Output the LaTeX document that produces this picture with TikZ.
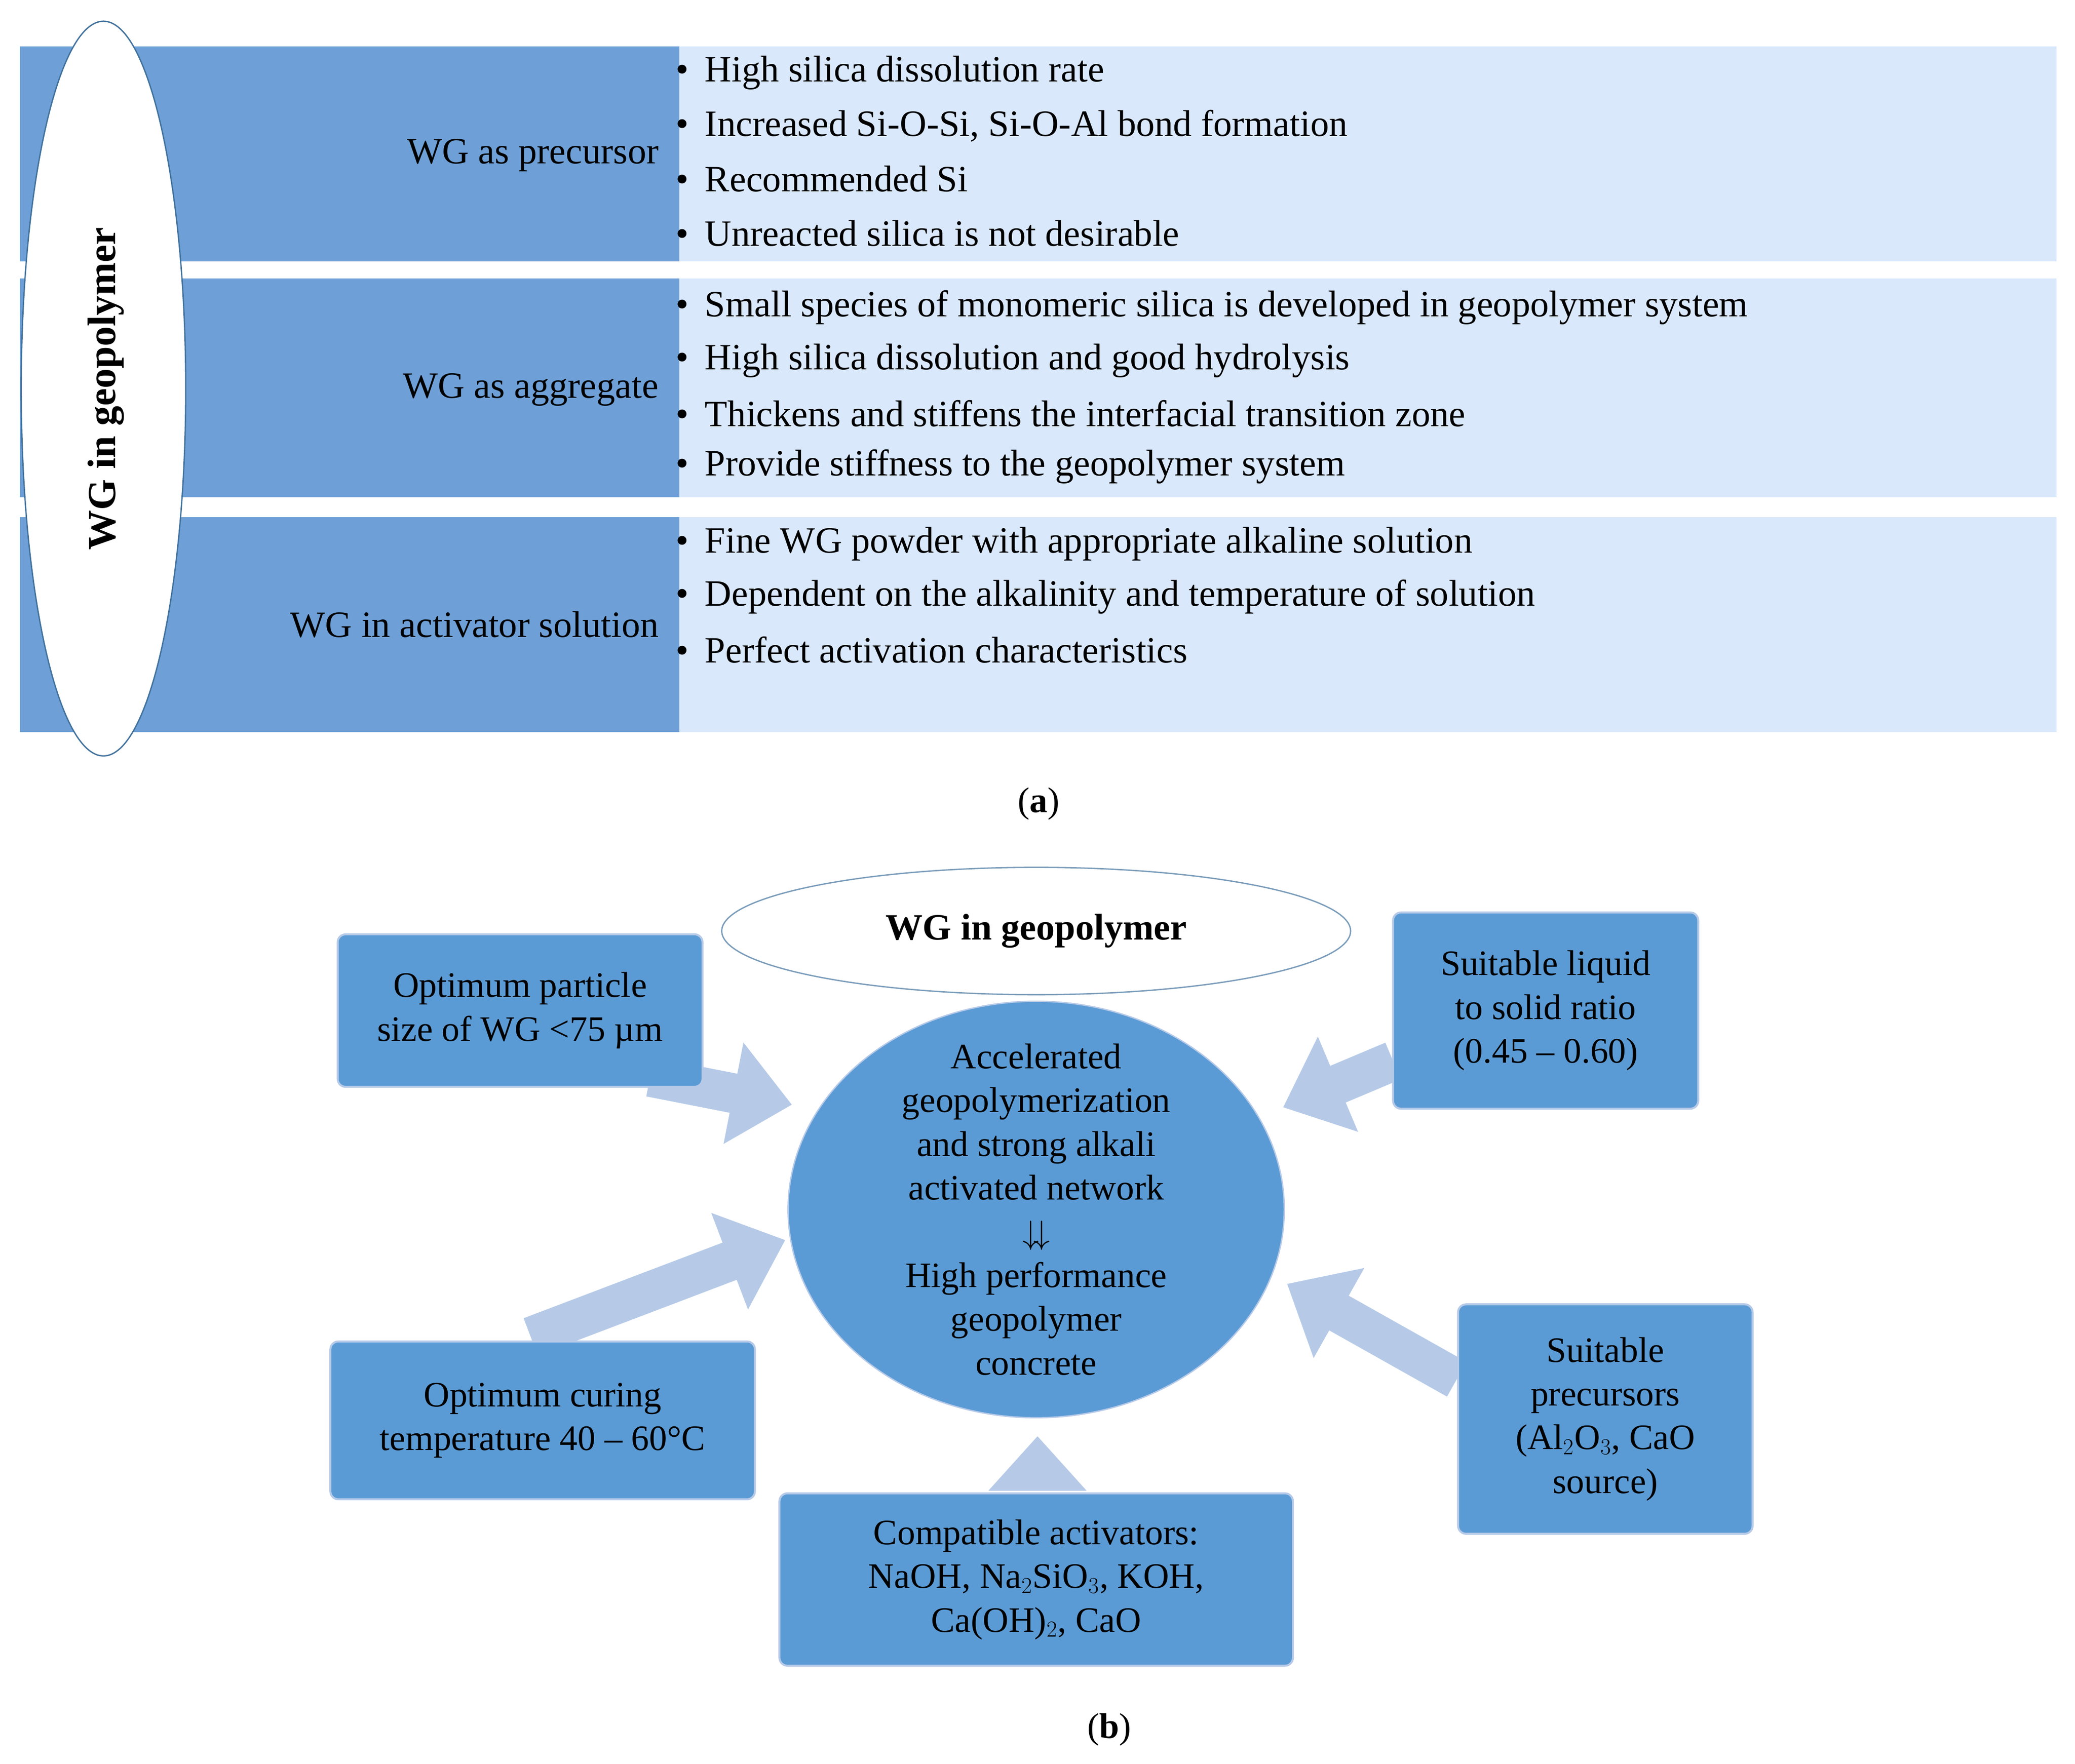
\documentclass[tikz,border=0pt]{standalone}
\usepackage{fontspec}
\setmainfont{Liberation Serif}
\usetikzlibrary{arrows.meta,shapes.geometric}
\definecolor{band}{RGB}{110,160,215}
\definecolor{light}{RGB}{218,232,252}
\definecolor{mid}{RGB}{91,155,213}
\definecolor{arr}{RGB}{182,202,232}
\definecolor{edge}{RGB}{65,113,156}
\begin{document}
\begin{tikzpicture}[x=1pt,y=-1pt,
  lab/.style={anchor=east,font=\fontsize{28}{33}\selectfont},
  bul/.style={anchor=west,font=\fontsize{28}{33}\selectfont},
  box/.style={fill=mid,draw=arr,line width=1.5pt,rounded corners=6pt,align=center,font=\fontsize{27}{33}\selectfont,inner sep=0pt},
  bigarr/.style={draw=arr,line width=30pt,-{Triangle[length=45pt,width=75pt]}},
  captxt/.style={font=\fontsize{27}{33}\selectfont}]
\useasboundingbox (0,0) rectangle (1564,1330);
% (a)
\foreach \t/\b in {35/197,210/375,390/552}{
  \fill[band] (15,\t) rectangle (512,\b);
  \fill[light] (512,\t) rectangle (1550,\b);}
\node[draw=edge,fill=white,line width=1pt,minimum width=124pt,minimum height=554pt,ellipse] (e1) at (78,293) {};
\node[rotate=90,font=\fontsize{30}{33}\selectfont\bfseries] (t1) at (80,293) {WG in geopolymer};
\node[lab] (l1) at (500,117) {WG as precursor};
\node[lab] (l2) at (500,294) {WG as aggregate};
\node[lab] (l3) at (500,471) {WG in activator solution};
\foreach \y/\s [count=\i] in {55/High silica dissolution rate,95/{Increased Si-O-Si, Si-O-Al bond formation},135/Recommended Si/Al ratio 3.3 -- 4.5,176/Unreacted silica is not desirable,232/Small species of monomeric silica is developed in geopolymer system,272/High silica dissolution and good hydrolysis,312/Thickens and stiffens the interfacial transition zone,352/Provide stiffness to the geopolymer system,410/Fine WG powder with appropriate alkaline solution,450/Dependent on the alkalinity and temperature of solution,490/Perfect activation characteristics}{
  \node[bul] (b\i) at (506,\y) {\textbullet\hspace{12pt}\s};}
\node[captxt] (ca) at (783,606) {(\textbf{a})};
% (b)
\node[draw=edge!70,fill=white,line width=1pt,ellipse,minimum width=474pt,minimum height=96pt] (top) at (781,702) {};
\node[font=\fontsize{28}{33}\selectfont\bfseries] (toptext) at (781,702) {WG in geopolymer};
\coordinate (a1s) at (490,812); \coordinate (a1e) at (597,833);
\coordinate (a2s) at (1050,800); \coordinate (a2e) at (967,835);
\coordinate (a3s) at (400,1008); \coordinate (a3e) at (592,935);
\coordinate (a4s) at (1098,1040); \coordinate (a4e) at (970,968);
\draw[bigarr] (a1s) -- (a1e);
\draw[bigarr] (a2s) -- (a2e);
\draw[bigarr] (a3s) -- (a3e);
\draw[bigarr] (a4s) -- (a4e);
\fill[arr] (745,1124) -- (819,1124) -- (782,1083) -- cycle;
\node[fill=mid,draw=arr,line width=1pt,ellipse,minimum width=374pt,minimum height=314pt] (c) at (781,912) {};
\node[align=center,font=\fontsize{27}{33}\selectfont] (ct) at (781,912) {Accelerated\\geopolymerization\\and strong alkali\\activated network\\$\downarrow\!\downarrow$\\High performance\\geopolymer\\concrete};
\node[box,minimum width=275pt,minimum height=115pt] (bx1) at (392,762) {Optimum particle\\size of WG <75 µm};
\node[box,minimum width=230pt,minimum height=148pt] (bx2) at (1165,762) {Suitable liquid\\to solid ratio\\(0.45 -- 0.60)};
\node[box,minimum width=320pt,minimum height=119pt] (bx3) at (409,1071) {Optimum curing\\temperature 40 -- 60°C};
\node[box,minimum width=222pt,minimum height=173pt] (bx4) at (1210,1070) {Suitable\\precursors\\(Al$_2$O$_3$, CaO\\source)};
\node[box,minimum width=387pt,minimum height=130pt] (bx5) at (781,1191) {Compatible activators:\\NaOH, Na$_2$SiO$_3$, KOH,\\Ca(OH)$_2$, CaO};
\node[captxt] (cb) at (836,1304) {(\textbf{b})};
\end{tikzpicture}
\end{document}
